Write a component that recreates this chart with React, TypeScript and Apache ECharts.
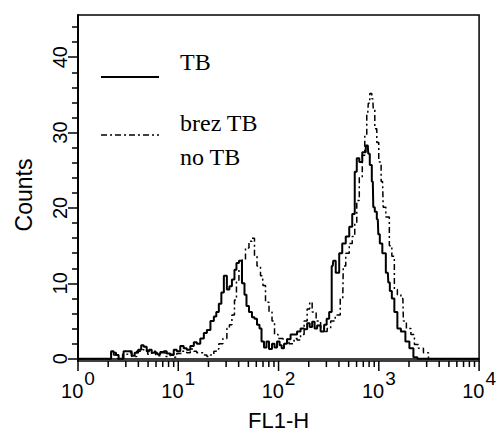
import React, { useEffect, useRef } from 'react';
import * as echarts from 'echarts';

// FL1-H channel positions and counts
const tbX = [1, 1.48, 2.09, 2.19, 2.34, 2.45, 2.63, 2.75, 2.95, 3.16, 3.31, 3.55, 3.8, 4.17, 4.37, 4.68, 5.01, 5.25, 5.62, 6.03, 6.31, 6.92, 7.41, 7.94, 8.71, 9.33, 10, 10.96, 11.7, 12.6, 13.8, 14.8, 15.8, 17.4, 18.6, 20, 21.9, 23.4, 24.5, 26.3, 27.5, 29.5, 31.6, 33.1, 35.5, 37.2, 38.9, 41.7, 44.7, 46.8, 49, 52.5, 56.2, 58.9, 63.1, 66.1, 69.2, 74.1, 77.6, 83.2, 89.1, 93.3, 100, 105, 110, 117, 126, 138, 148, 158, 174, 186, 200, 209, 224, 234, 251, 275, 295, 309, 331, 347, 355, 389, 417, 447, 490, 525, 562, 589, 617, 661, 708, 776, 794, 832, 871, 891, 933, 977, 1000, 1047, 1122, 1230, 1259, 1318, 1380, 1479, 1585, 1738, 1950, 2089, 2344, 2500, 10000];
const tbY = [0, 0, 0, 1, 0.8, 0.5, 0, 0, 1, 1, 1, 0.4, 0.8, 1.2, 1.8, 1.6, 1, 1.2, 0.8, 0.8, 0.6, 0.9, 1, 0.7, 0.5, 1.2, 1, 1.7, 1.4, 1.2, 1.7, 2.2, 2, 2.7, 3.4, 3.8, 5, 5.6, 6.2, 7.3, 8.8, 11, 9.2, 9.6, 10.5, 11.8, 12.7, 13, 10, 8.5, 7, 6.2, 5.5, 5.3, 4.5, 4, 2.3, 1.5, 2.3, 1.3, 2, 1.5, 2.3, 1.8, 1.4, 2, 2.6, 3.2, 3.2, 3.6, 4, 3.9, 4.7, 4.2, 4.9, 4, 4.4, 3.6, 4.5, 5.3, 6.2, 12.3, 13, 11.4, 14, 15.3, 16.2, 17.5, 19.2, 24.8, 26.6, 26.1, 27.4, 28.3, 27.2, 25.7, 23.5, 20.1, 19.5, 18.5, 16.5, 15.3, 14, 11.4, 10.1, 9, 8, 6.2, 4, 3.6, 2.3, 1.4, 0.2, 0, 0];

const noTbX = [1, 2.09, 2.19, 2.34, 2.63, 2.95, 3.31, 3.55, 4.17, 4.68, 5.25, 5.62, 6.31, 6.92, 7.94, 8.71, 9.33, 10, 11.7, 12.6, 13.8, 14.8, 15.8, 17.4, 18.6, 20, 21.9, 23.4, 24.5, 26.3, 29.5, 31.6, 33.1, 35.5, 37.2, 38.9, 41.7, 44.7, 49, 52.5, 56.2, 58.9, 63.1, 69.2, 70.8, 77.6, 83.2, 89.1, 93.3, 105, 117, 138, 148, 158, 174, 186, 200, 209, 224, 251, 275, 295, 316, 347, 389, 437, 447, 490, 525, 562, 589, 617, 661, 708, 741, 776, 794, 832, 871, 891, 933, 977, 1020, 1090, 1122, 1230, 1318, 1380, 1479, 1585, 1738, 1778, 1995, 2188, 2344, 2630, 2951, 3311, 10000];
const noTbY = [0, 0, 0.8, 0.5, 0, 0.6, 0.8, 0.3, 1, 1.2, 0.6, 1, 0.4, 0.8, 0.3, 0.6, 0.2, 0.7, 1, 0.8, 1.3, 1, 0.8, 0.8, 0.5, 0.3, 0.5, 1, 1.3, 2, 2.7, 4, 4.5, 5.8, 7.8, 10.4, 11.8, 13.1, 14.7, 15.6, 16, 13.6, 12.3, 11, 9.7, 7.5, 6.2, 5, 3.2, 2.7, 2.6, 2, 2.7, 2.5, 3.2, 5, 6.6, 7.5, 6.2, 5, 4, 3.6, 4, 5, 5.8, 8, 12.3, 14, 15.3, 16.2, 18, 21, 24, 27, 29.6, 32.6, 33.9, 35.2, 34.5, 33, 30.5, 28.7, 26.1, 23.5, 20.1, 18.8, 15, 13.6, 9.2, 8.5, 8, 5, 4, 3.2, 1.9, 1.4, 0.8, 0, 0];

const yMajorTicks = [0, 10, 20, 30, 40];
const yMinorTicks = [2, 4, 6, 8, 12, 14, 16, 18, 22, 24, 26, 28, 32, 34, 36, 38, 42, 44];
const xMajorTicks = [1, 10, 100, 1000, 10000];
const xMinorTicks = [2, 3, 4, 5, 6, 7, 8, 9, 20, 30, 40, 50, 60, 70, 80, 90, 200, 300, 400, 500, 600, 700, 800, 900, 2000, 3000, 4000, 5000, 6000, 7000, 8000, 9000];
const xExponents = ['0', '1', '2', '3', '4'];

const seriesNames = ['TB', 'brez TB\nno TB'];

const SANS = '"Liberation Sans", Arial, sans-serif';
const SERIF = '"Liberation Serif", "Times New Roman", serif';

export default function App() {
  const ref = useRef<HTMLDivElement>(null);

  useEffect(() => {
    if (!ref.current) return;
    const chart = echarts.init(ref.current, null, { renderer: 'svg' });
    const Y_MIN = -0.3;
    const Y_MAX = 45.6;

    const tickSeries = (values: number[], len: number) => ({
      type: 'custom',
      silent: true,
      clip: false,
      xAxisIndex: 0,
      yAxisIndex: 0,
      data: values.map((v) => [v, Y_MIN]),
      encode: { x: 0, y: 1 },
      renderItem: (_params: any, api: any) => {
        const p = api.coord([api.value(0), Y_MIN]);
        return {
          type: 'line',
          shape: { x1: p[0], y1: p[1], x2: p[0], y2: p[1] + len },
          style: { stroke: '#000', lineWidth: 1.5 },
        };
      },
    });

    const option: any = {
      animation: false,
      backgroundColor: '#fff',
      grid: {
        left: 78,
        right: 17,
        top: 15,
        bottom: 65,
        show: true,
        borderColor: '#000',
        borderWidth: 1.5,
        backgroundColor: 'transparent',
      },
      xAxis: {
        type: 'log',
        logBase: 10,
        min: 1,
        max: 10000,
        splitNumber: 4,
        name: 'FL1-H',
        nameLocation: 'middle',
        nameGap: 48,
        nameTextStyle: { fontFamily: SANS, fontSize: 22, color: '#000' },
        axisLine: { show: true, lineStyle: { color: '#000', width: 1.5 } },
        axisTick: { show: false },
        splitLine: { show: false },
        axisLabel: {
          margin: 7,
          formatter: (val: number) => {
            const i = xMajorTicks.indexOf(Math.round(val));
            const e = i >= 0 ? xExponents[i] : String(Math.round(Math.log10(val)));
            return `{b|10}{s|${e}}`;
          },
          rich: {
            b: { fontFamily: SANS, fontSize: 20, color: '#000', padding: [13, 0, 0, 0] },
            s: { fontFamily: SANS, fontSize: 19, color: '#000', padding: [0, 0, 13, 1] },
          },
        },
      },
      yAxis: [
        {
          type: 'value',
          min: Y_MIN,
          max: Y_MAX,
          name: 'Counts',
          nameLocation: 'middle',
          nameGap: 43,
          nameTextStyle: { fontFamily: SANS, fontSize: 23, color: '#000', padding: [0, 14, 0, 0] },
          axisLine: { show: true, lineStyle: { color: '#000', width: 2 } },
          axisTick: { show: true, customValues: yMajorTicks, length: 10, lineStyle: { color: '#000', width: 1.5 } },
          axisLabel: {
            customValues: yMajorTicks,
            rotate: 90,
            margin: 8,
            fontFamily: SANS,
            fontSize: 20,
            color: '#000',
          },
          splitLine: { show: false },
        },
        {
          type: 'value',
          min: Y_MIN,
          max: Y_MAX,
          position: 'left',
          axisLine: { show: false },
          axisTick: { show: true, customValues: yMinorTicks, length: 6, lineStyle: { color: '#000', width: 1.5 } },
          axisLabel: { show: false },
          splitLine: { show: false },
        },
      ],
      series: [
        {
          name: seriesNames[0],
          type: 'line',
          step: 'middle',
          symbol: 'none',
          data: tbX.map((x, i) => [x, tbY[i]]),
          lineStyle: { color: '#000', width: 2 },
          z: 3,
        },
        {
          name: seriesNames[1],
          type: 'line',
          step: 'middle',
          symbol: 'none',
          data: noTbX.map((x, i) => [x, noTbY[i]]),
          lineStyle: { color: '#000', width: 1.5, type: [6, 3, 2, 3] },
          z: 2,
        },
        tickSeries(xMajorTicks, 10),
        tickSeries(xMinorTicks, 6),
      ],
      graphic: [
        {
          type: 'line',
          shape: { x1: 101, y1: 77, x2: 159, y2: 77 },
          style: { stroke: '#000', lineWidth: 2 },
        },
        {
          type: 'text',
          x: 180,
          y: 62,
          style: { text: 'TB', fontFamily: SERIF, fontSize: 24, fill: '#000', verticalAlign: 'middle' },
        },
        {
          type: 'line',
          shape: { x1: 101, y1: 135, x2: 159, y2: 135 },
          style: { stroke: '#000', lineWidth: 1.5, lineDash: [6, 3, 2, 3] },
        },
        {
          type: 'text',
          x: 180,
          y: 123,
          style: { text: 'brez TB', fontFamily: SERIF, fontSize: 24, fill: '#000', verticalAlign: 'middle' },
        },
        {
          type: 'text',
          x: 180,
          y: 157,
          style: { text: 'no TB', fontFamily: SERIF, fontSize: 24, fill: '#000', verticalAlign: 'middle' },
        },
      ],
    };

    chart.setOption(option);
    return () => chart.dispose();
  }, []);

  return (
    <div
      ref={ref}
      style={{ position: 'fixed', left: 0, top: 0, width: 499, height: 436, background: '#fff' }}
    />
  );
}
